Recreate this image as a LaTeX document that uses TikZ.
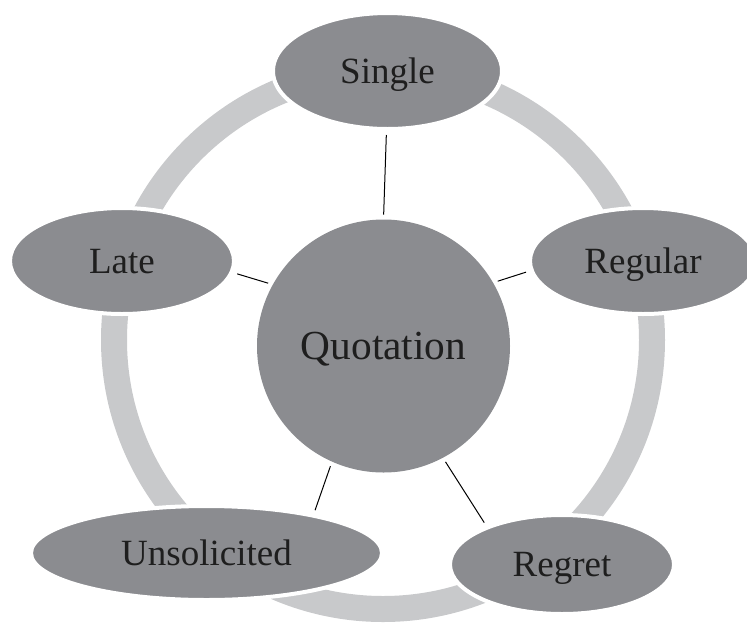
\documentclass[tikz,border=0pt]{standalone}
\usepackage{fontspec}
\setmainfont{Liberation Serif}
\usetikzlibrary{shapes.geometric}
\definecolor{bubblegray}{RGB}{139,140,144}
\definecolor{ringgray}{RGB}{200,201,203}
\definecolor{labelink}{RGB}{30,30,30}

\begin{document}
\begin{tikzpicture}[x=0.75pt,y=0.75pt,yscale=-1,xscale=1,
  bubble/.style={ellipse,fill=bubblegray,draw=white,line width=3pt,inner sep=0pt,text=labelink,text height=18.5pt,text depth=0pt,font=\fontsize{27.75}{30}\selectfont},
  hub/.style={circle,fill=bubblegray,inner sep=0pt,minimum size=189.75pt,text=labelink,text height=20.5pt,text depth=0pt,font=\fontsize{31}{34}\selectfont},
  link/.style={draw=black,line width=0.75pt,shorten <=3.5pt,shorten >=3pt}]

\useasboundingbox (0,0) rectangle (747,626);
\clip (0,0) rectangle (747,626);

% grey ring behind the bubbles
\draw[ringgray,line width=19.5pt] (383,340) circle (269);

\node[hub] (quo) at (383.5,346) {Quotation};

\node[bubble,minimum width=171.75pt,minimum height=87pt] (sng) at (387.5,71) {Single};

\node[bubble,minimum width=168pt,minimum height=79.5pt] (late) at (122,261) {Late};

\node[bubble,minimum width=169.5pt,minimum height=79.5pt] (reg) at (643,261) {Regular};

\node[bubble,minimum width=263.25pt,minimum height=70.5pt] (uns) at (206.5,553) {Unsolicited};

\node[bubble,minimum width=168pt,minimum height=74.25pt] (rgt) at (562,564.5) {Regret};

% spokes
\draw[link] (quo.90) -- (sng.-91);

\draw[link] (quo.151) -- (late.-6);

\draw[link] (quo.30) -- (reg.185);

\draw[link] (quo.-114) -- (uns.20);

\draw[link] (quo.-62) -- (rgt.153);

\end{tikzpicture}
\end{document}
